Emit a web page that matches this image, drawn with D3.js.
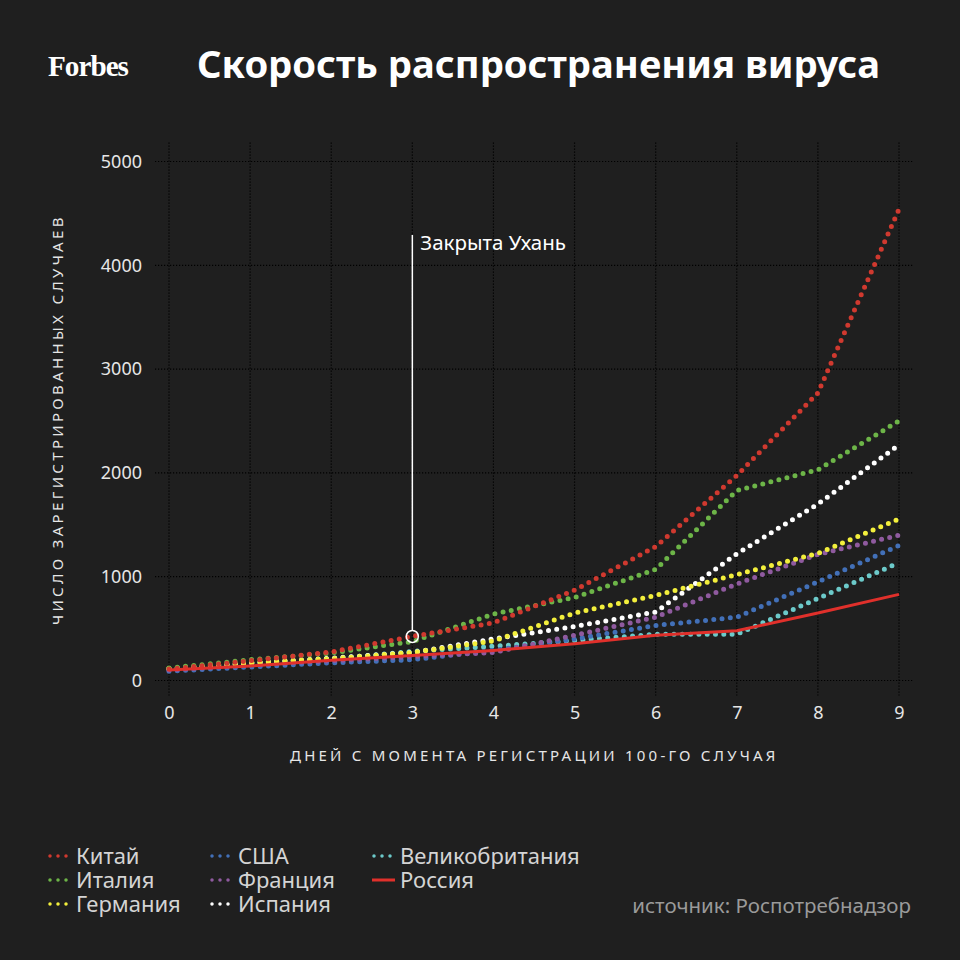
<!DOCTYPE html>
<html>
<head>
<meta charset="utf-8">
<script src="https://cdn.jsdelivr.net/npm/d3@7"></script>
<style>
  body { margin: 0; background: #1f1f1f; }
  svg { display: block; font-family: "Noto Sans", sans-serif; }
</style>
</head>
<body>
<svg></svg>
<script>
// 1) Data
const days = [0, 1, 2, 3, 4, 5, 6, 7, 8, 9]
const yTicks = [0, 1000, 2000, 3000, 4000, 5000]

const china = [110, 190, 275, 425, 555, 870, 1290, 1975, 2770, 4540]
const italy = [120, 200, 265, 375, 640, 800, 1070, 1830, 2030, 2500]
const germany = [115, 170, 210, 270, 380, 650, 820, 1020, 1225, 1555]
const usa = [90, 130, 170, 200, 290, 400, 530, 610, 950, 1300]
const france = [100, 150, 190, 230, 270, 435, 610, 930, 1215, 1400]
const spain = [115, 170, 215, 270, 400, 520, 660, 1220, 1700, 2270]
const uk = [105, 165, 210, 280, 330, 385, 445, 445, 790, 1135]
const russia = [100, 140, 195, 240, 290, 355, 435, 480, 650, 830]

const seriesNames = ["Китай", "Италия", "Германия", "США", "Франция", "Испания", "Великобритания", "Россия"]
const seriesValues = [china, italy, germany, usa, france, spain, uk, russia]
const seriesColors = ["#d0392f", "#6db548", "#f3ef3c", "#4270b8", "#8f5a9f", "#ffffff", "#6ccaca", "#e0302b"]

const lockdownDay = 3
const lockdownValue = 425

// 2) Dimensions
const dimensions = {
  width: 960,
  height: 960,
  margin: { top: 161.5, bottom: 279.5, right: 61, left: 169 },
}
dimensions.boundedWidth = dimensions.width - dimensions.margin.left - dimensions.margin.right
dimensions.boundedHeight = dimensions.height - dimensions.margin.top - dimensions.margin.bottom

// 3) Canvas
const wrapper = d3.select("svg")
  .attr("width", dimensions.width)
  .attr("height", dimensions.height)

wrapper.append("rect")
  .attr("width", dimensions.width)
  .attr("height", dimensions.height)
  .attr("fill", "#1f1f1f")

const bounds = wrapper.append("g")
  .attr("transform", `translate(${dimensions.margin.left},${dimensions.margin.top})`)

// 4) Scales
const xScale = d3.scaleLinear().domain([0, 9]).range([0, dimensions.boundedWidth])
const yScale = d3.scaleLinear().domain([0, 5000]).range([dimensions.boundedHeight, 0])

// 5) Grid
const grid = bounds.append("g")
grid.selectAll(".vgrid")
  .data(days)
  .join("line")
  .attr("x1", d => xScale(d)).attr("x2", d => xScale(d))
  .attr("y1", -19).attr("y2", dimensions.boundedHeight + 15)
  .attr("stroke", "#000").attr("stroke-width", 1.2)
  .attr("stroke-dasharray", "1.2 1.8")
grid.selectAll(".hgrid")
  .data(yTicks)
  .join("line")
  .attr("x1", -14).attr("x2", dimensions.boundedWidth + 14)
  .attr("y1", d => yScale(d)).attr("y2", d => yScale(d))
  .attr("stroke", "#000").attr("stroke-width", 1.2)
  .attr("stroke-dasharray", "1.2 1.8")

// axes labels
const yAxis = d3.axisLeft(yScale).tickValues(yTicks).tickFormat(d3.format("d")).tickSize(0).tickPadding(27)
bounds.append("g").call(yAxis)
  .call(g => g.select(".domain").remove())
  .call(g => g.selectAll("text")
    .attr("fill", "#e6e6e6").attr("font-size", 18).attr("font-family", "Noto Sans"))

const xAxis = d3.axisBottom(xScale).tickValues(days).tickSize(0).tickPadding(26)
bounds.append("g").attr("transform", `translate(0,${dimensions.boundedHeight})`).call(xAxis)
  .call(g => g.select(".domain").remove())
  .call(g => g.selectAll("text")
    .attr("fill", "#e6e6e6").attr("font-size", 18).attr("font-family", "Noto Sans"))

// 6) Lines
const lineGenerator = d3.line()
  .x((d, i) => xScale(days[i]))
  .y(d => yScale(d))

const order = [6, 3, 4, 5, 2, 1, 0, 7]
order.forEach(i => {
  const path = bounds.append("path")
    .attr("d", lineGenerator(seriesValues[i]))
    .attr("fill", "none")
    .attr("stroke", seriesColors[i])
  if (seriesNames[i] === "Россия") {
    path.attr("stroke-width", 3)
  } else {
    path.attr("stroke-width", 5)
      .attr("stroke-linecap", "round")
      .attr("stroke-dasharray", "0 8.3")
  }
})

// 7) Annotation
const ax = xScale(lockdownDay)
const ay = yScale(lockdownValue)
bounds.append("line")
  .attr("x1", ax).attr("x2", ax)
  .attr("y1", 235 - dimensions.margin.top).attr("y2", ay - 6)
  .attr("stroke", "#fff").attr("stroke-width", 1.5)
bounds.append("circle")
  .attr("cx", ax).attr("cy", ay).attr("r", 6)
  .attr("fill", "none").attr("stroke", "#fff").attr("stroke-width", 1.5)
bounds.append("text")
  .attr("x", ax + 8).attr("y", 250 - dimensions.margin.top)
  .attr("fill", "#fff").attr("font-size", 20.5)
  .text("Закрыта Ухань")

// 8) Titles
wrapper.append("text")
  .attr("x", 48).attr("y", 76)
  .attr("fill", "#fff")
  .attr("font-family", "Liberation Serif").attr("font-weight", 700)
  .attr("font-size", 30).attr("textLength", 80).attr("lengthAdjust", "spacingAndGlyphs")
  .attr("letter-spacing", -1)
  .text("Forbes")

wrapper.append("text")
  .attr("x", 197).attr("y", 78)
  .attr("fill", "#fff").attr("font-weight", 700).attr("font-size", 37)
  .attr("textLength", 683).attr("lengthAdjust", "spacingAndGlyphs")
  .text("Скорость распространения вируса")

wrapper.append("text")
  .attr("transform", `translate(63,420) rotate(-90)`)
  .attr("text-anchor", "middle")
  .attr("fill", "#e6e6e6").attr("font-size", 15).attr("letter-spacing", 2.6)
  .attr("textLength", 410).attr("lengthAdjust", "spacing")
  .text("ЧИСЛО ЗАРЕГИСТРИРОВАННЫХ СЛУЧАЕВ")

wrapper.append("text")
  .attr("x", 534).attr("y", 761)
  .attr("text-anchor", "middle")
  .attr("fill", "#e6e6e6").attr("font-size", 15).attr("letter-spacing", 2.6)
  .attr("textLength", 488).attr("lengthAdjust", "spacing")
  .text("ДНЕЙ С МОМЕНТА РЕГИСТРАЦИИ 100-ГО СЛУЧАЯ")

// 9) Legend
const legendCols = [48, 210, 372]
const legendRows = [856, 880, 904]
const legend = wrapper.append("g")
seriesNames.forEach((name, i) => {
  const col = Math.floor(i / 3)
  const row = i % 3
  const lx = legendCols[col]
  const ly = legendRows[row]
  const item = legend.append("g").attr("transform", `translate(${lx},${ly})`)
  if (name === "Россия") {
    item.append("line").attr("x1", 0).attr("x2", 23).attr("y1", 0).attr("y2", 0)
      .attr("stroke", seriesColors[i]).attr("stroke-width", 3)
  } else {
    item.append("line").attr("x1", 2).attr("x2", 20).attr("y1", 0).attr("y2", 0)
      .attr("stroke", seriesColors[i]).attr("stroke-width", 3.5)
      .attr("stroke-linecap", "round").attr("stroke-dasharray", "0 8")
  }
  item.append("text")
    .attr("x", 28).attr("y", 8)
    .attr("fill", "#d4d4d4").attr("font-size", 22)
    .text(name)
})

wrapper.append("text")
  .attr("x", 911).attr("y", 913)
  .attr("text-anchor", "end")
  .attr("fill", "#9a9a9a").attr("font-size", 20.5)
  .text("источник: Роспотребнадзор")
</script>
</body>
</html>
